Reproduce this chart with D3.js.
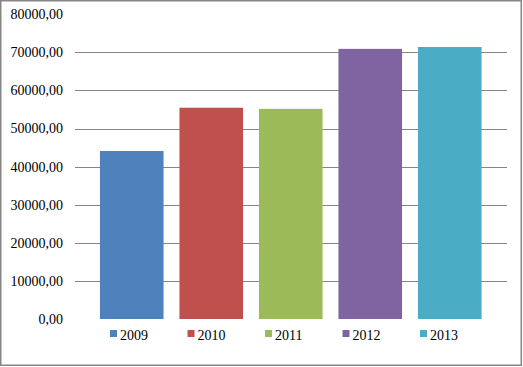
<!DOCTYPE html>
<html>
<head>
<meta charset="utf-8">
<script src="https://cdn.jsdelivr.net/npm/d3@7"></script>
<style>
html,body{margin:0;padding:0;background:#fff;}
svg{display:block;}
text{font-family:"Liberation Serif","Times New Roman",serif;fill:#000;}
</style>
</head>
<body>
<svg id="chart" width="523" height="367"></svg>
<script>
const categories = ["2009", "2010", "2011", "2012", "2013"];
const values = [44100, 55450, 55150, 70900, 71400];
const colors = ["#4F81BD", "#C0504D", "#9BBB59", "#8064A2", "#4BACC6"];
const yTicks = [0, 10000, 20000, 30000, 40000, 50000, 60000, 70000, 80000];

const svg = d3.select("#chart");

// border
svg.append("rect")
  .attr("x", 0.75).attr("y", 0.75)
  .attr("width", 520.5).attr("height", 364.5)
  .attr("fill", "#fff").attr("stroke", "#868686").attr("stroke-width", 1.5);

const y = d3.scaleLinear().domain([0, 80000]).range([319, 14.2]);
const x = d3.scaleBand().domain(categories).range([92, 489.5]).paddingInner(0.2).paddingOuter(0.1);

const fmt = v => d3.format(".2f")(v).replace(".", ",");

// gridlines
svg.append("g").selectAll("line")
  .data(yTicks.filter(t => t > 0 && t < 80000))
  .join("line")
  .attr("x1", 75).attr("x2", 507)
  .attr("y1", d => Math.round(y(d)) + 0.5).attr("y2", d => Math.round(y(d)) + 0.5)
  .attr("stroke", "#868686").attr("stroke-width", 1);

// y labels via axis
const yAxis = d3.axisLeft(y).tickValues(yTicks).tickFormat(fmt).tickSize(0).tickPadding(0);
const ga = svg.append("g").attr("transform", "translate(63,0)").call(yAxis);
ga.select(".domain").remove();
ga.selectAll("text").attr("font-family", "'Liberation Serif','Times New Roman',serif")
  .attr("font-size", "14px").attr("fill", "#000");

// bars
svg.append("g").selectAll("rect")
  .data(categories)
  .join("rect")
  .attr("x", d => x(d))
  .attr("width", x.bandwidth())
  .attr("y", (d, i) => y(values[i]))
  .attr("height", (d, i) => y(0) - y(values[i]))
  .attr("fill", (d, i) => colors[i]);

// legend
const lg = svg.append("g");
const legendX = d3.scaleBand().domain(categories).range([110, 497.5]);
const items = lg.selectAll("g").data(categories).join("g")
  .attr("transform", d => `translate(${legendX(d)},0)`);
items.append("rect").attr("x", 0).attr("y", 330).attr("width", 7).attr("height", 7)
  .attr("fill", (d, i) => colors[i]);
items.append("text").attr("x", 10).attr("y", 339.5)
  .attr("font-size", "14px").text(d => d);
</script>
</body>
</html>
